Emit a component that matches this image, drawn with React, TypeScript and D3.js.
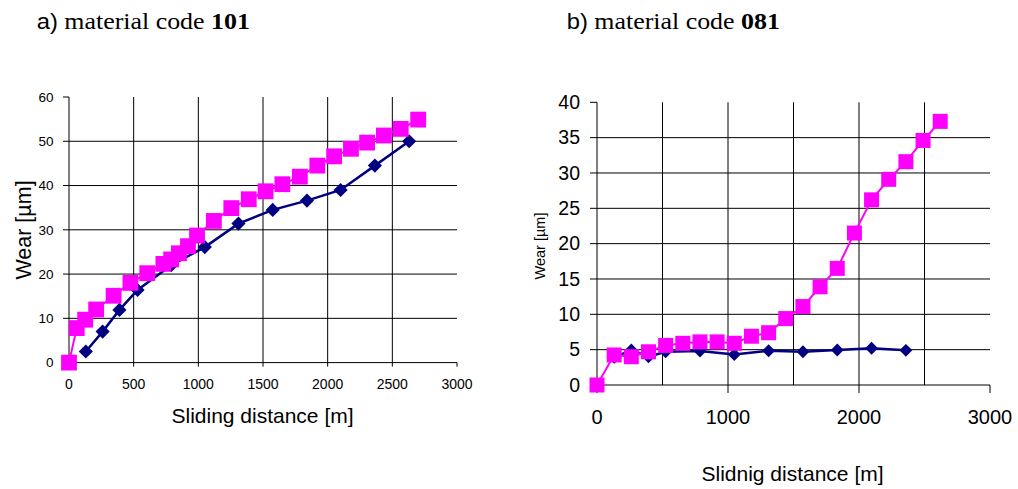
import React from "react";
import * as d3 from "d3";

// ---- Data: a) material code 101 ----
const navyAX = [130, 260, 390, 530, 790, 1050, 1310, 1575, 1840, 2100, 2365, 2630];
const navyAY = [2.5, 7.0, 11.9, 16.4, 22.0, 26.1, 31.4, 34.5, 36.6, 39.0, 44.5, 50.0];
const magAX = [0, 60, 125, 210, 345, 475, 605, 730, 790, 850, 920, 990, 1120, 1255, 1390, 1520, 1650, 1785, 1920, 2050, 2180, 2305, 2435, 2565, 2700];
const magAY = [0, 7.8, 9.7, 12.0, 15.1, 18.0, 20.2, 22.3, 23.3, 24.7, 26.3, 28.7, 32.0, 34.9, 36.9, 38.7, 40.3, 42.0, 44.5, 46.6, 48.3, 49.7, 51.3, 52.8, 54.9];

// ---- Data: b) material code 081 ----
const navyBX = [131, 262, 393, 524, 786, 1048, 1310, 1572, 1834, 2096, 2358];
const navyBY = [3.9, 4.95, 4.0, 4.7, 4.8, 4.3, 4.85, 4.7, 4.95, 5.2, 4.9];
const magBX = [0, 131, 262, 393, 524, 655, 786, 917, 1048, 1179, 1310, 1441, 1572, 1703, 1834, 1965, 2096, 2227, 2358, 2489, 2620];
const magBY = [0, 4.25, 4.0, 4.7, 5.6, 5.9, 6.1, 6.1, 5.9, 6.9, 7.4, 9.4, 11.1, 13.9, 16.5, 21.5, 26.2, 29.1, 31.6, 34.6, 37.3];

// ---- Ticks ----
const leftXTicks = [0, 500, 1000, 1500, 2000, 2500, 3000];
const leftYTicks = [0, 10, 20, 30, 40, 50, 60];
const rightXLabels = [0, 1000, 2000, 3000];
const rightXGrid = [500, 1000, 1500, 2000, 2500];
const rightYTicks = [0, 5, 10, 15, 20, 25, 30, 35, 40];

const NAVY = "#000080";
const MAGENTA = "#FF00FF";
const SANS = "'Liberation Sans', Arial, sans-serif";
const SERIF = "'Liberation Serif', 'Times New Roman', serif";

type Pt = [number, number];
const zip = (xs: number[], ys: number[]): Pt[] => xs.map((x, i) => [x, ys[i]]);

// Square-proportioned diamond: size = (full diagonal)^2
const diamondSym: d3.SymbolType = {
  draw(ctx: any, size: number) {
    const r = Math.sqrt(size) / 2;
    ctx.moveTo(0, -r);
    ctx.lineTo(r, 0);
    ctx.lineTo(0, r);
    ctx.lineTo(-r, 0);
    ctx.closePath();
  },
};

function Series({ pts, x, y, color, marker, size, width }: any) {
  const line = d3.line<Pt>().x((d) => x(d[0])).y((d) => y(d[1]));
  const sym = d3.symbol().type(marker === "square" ? d3.symbolSquare : diamondSym).size(size);
  return (
    <g>
      <path d={line(pts) || ""} fill="none" stroke={color} strokeWidth={width} />
      {pts.map((d: Pt, i: number) => (
        <path key={i} d={sym() || ""} transform={`translate(${x(d[0])},${y(d[1])})`} fill={color} />
      ))}
    </g>
  );
}

function Title({ x, label, code }: { x: number; label: string; code: string }) {
  return (
    <g transform={`translate(${x},29) scale(1.08,1)`}>
      <text fontSize={24} fill="#000">
        <tspan fontFamily={SANS} fontSize={22}>{label}</tspan>
        <tspan fontFamily={SERIF}> material code </tspan>
        <tspan fontFamily={SERIF} fontWeight="bold">{code}</tspan>
      </text>
    </g>
  );
}

export default function App() {
  // Left chart scales
  const xA = d3.scaleLinear().domain([0, 3000]).range([69, 457]);
  const yA = d3.scaleLinear().domain([0, 60]).range([362.6, 97]);
  // Right chart scales
  const xB = d3.scaleLinear().domain([0, 3000]).range([597, 990]);
  const yB = d3.scaleLinear().domain([0, 40]).range([385, 102.3]);

  return (
    <svg width={1018} height={489} style={{ position: "absolute", left: 0, top: 0, background: "#fff" }}>
      <Title x={36.7} label="a)" code="101" />
      <Title x={566.7} label="b)" code="081" />

      {/* ---------- Left chart ---------- */}
      <g>
        {leftYTicks.filter((t) => t > 0 && t < 60).map((t) => (
          <line key={"hg" + t} x1={xA(0)} x2={xA(3000)} y1={yA(t)} y2={yA(t)} stroke="#000" strokeWidth={1} />
        ))}
        {leftXTicks.filter((t) => t > 0 && t < 3000).map((t) => (
          <line key={"vg" + t} x1={xA(t)} x2={xA(t)} y1={yA(60)} y2={yA(0)} stroke="#000" strokeWidth={1} />
        ))}
        <line x1={xA(0)} x2={xA(0)} y1={yA(60)} y2={yA(0)} stroke="#000" strokeWidth={1} />
        <line x1={xA(0)} x2={xA(3000)} y1={yA(0)} y2={yA(0)} stroke="#000" strokeWidth={1} />
        {leftYTicks.map((t) => (
          <g key={"yt" + t}>
            <line x1={xA(0) - 6} x2={xA(0)} y1={yA(t)} y2={yA(t)} stroke="#000" />
            <text x={53.5} y={yA(t)} dy="0.35em" textAnchor="end" fontFamily={SANS} fontSize={13.5}>{t}</text>
          </g>
        ))}
        {leftXTicks.map((t) => (
          <g key={"xt" + t}>
            <line x1={xA(t)} x2={xA(t)} y1={yA(0)} y2={yA(0) + 4} stroke="#000" />
            <text x={xA(t)} y={389} textAnchor="middle" fontFamily={SANS} fontSize={14}>{t}</text>
          </g>
        ))}
        <text x={262.5} y={423} textAnchor="middle" fontFamily={SANS} fontSize={21}>Sliding distance [m]</text>
        <text transform="translate(31,230) rotate(-90)" textAnchor="middle" fontFamily={SANS} fontSize={21.5}>Wear [µm]</text>

        <Series pts={zip(navyAX, navyAY)} x={xA} y={yA} color={NAVY} marker="diamond" size={200} width={2.5} />
        <Series pts={zip(magAX, magAY)} x={xA} y={yA} color={MAGENTA} marker="square" size={250} width={2} />
      </g>

      {/* ---------- Right chart ---------- */}
      <g>
        {rightYTicks.filter((t) => t > 0 && t < 40).map((t) => (
          <line key={"hg" + t} x1={xB(0)} x2={xB(3000)} y1={yB(t)} y2={yB(t)} stroke="#000" strokeWidth={1} />
        ))}
        {rightXGrid.map((t) => (
          <line key={"vg" + t} x1={xB(t)} x2={xB(t)} y1={yB(40)} y2={yB(0)} stroke="#000" strokeWidth={1} />
        ))}
        <line x1={xB(0)} x2={xB(0)} y1={yB(40)} y2={yB(0)} stroke="#000" strokeWidth={1} />
        <line x1={xB(0)} x2={xB(3000)} y1={yB(0)} y2={yB(0)} stroke="#000" strokeWidth={1} />
        {rightYTicks.map((t) => (
          <g key={"yt" + t}>
            <line x1={xB(0) - 7} x2={xB(0)} y1={yB(t)} y2={yB(t)} stroke="#000" />
            <text x={580} y={yB(t)} dy="0.35em" textAnchor="end" fontFamily={SANS} fontSize={19.5}>{t}</text>
          </g>
        ))}
        {rightXLabels.map((t) => (
          <g key={"xt" + t}>
            <line x1={xB(t)} x2={xB(t)} y1={yB(0)} y2={yB(0) + 8} stroke="#000" />
            <text x={xB(t)} y={424} textAnchor="middle" fontFamily={SANS} fontSize={20}>{t}</text>
          </g>
        ))}
        <text x={792.5} y={481} textAnchor="middle" fontFamily={SANS} fontSize={21}>Slidnig distance [m]</text>
        <text transform="translate(545,246) rotate(-90)" textAnchor="middle" fontFamily={SANS} fontSize={14.5}>Wear [µm]</text>

        <Series pts={zip(navyBX, navyBY)} x={xB} y={yB} color={NAVY} marker="diamond" size={165} width={2.5} />
        <Series pts={zip(magBX, magBY)} x={xB} y={yB} color={MAGENTA} marker="square" size={225} width={2} />
      </g>
    </svg>
  );
}
